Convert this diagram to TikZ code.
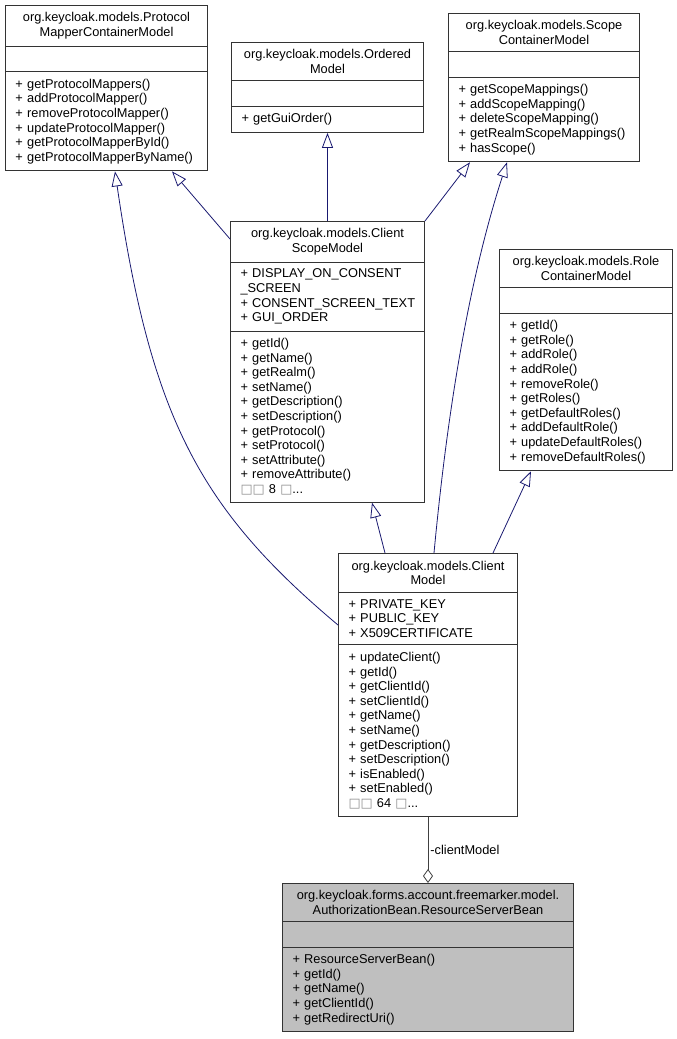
\documentclass[tikz,border=0pt]{standalone}
\usepackage{fontspec}
\setmainfont{Liberation Sans}
\newfontfamily\tofufont{DejaVu Sans}
\usepackage{tikz}
\usetikzlibrary{positioning,calc,shapes.multipart,arrows.meta}
\definecolor{edgeblue}{RGB}{25,25,112}
\definecolor{beangray}{RGB}{191,191,191}
\hyphenpenalty=10000
\exhyphenpenalty=10000
\newcommand{\tofu}{{\tofufont\color{black!45}□}}
\newcommand{\pub}{+~}
\newcommand{\nix}{\vphantom{()}}
\newcommand{\ctr}[1]{\makebox[\hsize]{#1}}

\begin{document}
\begin{tikzpicture}
                [x=1pt, y=-1pt,
                 cls/.style = {rectangle split, rectangle split parts=3, draw=black!80, line width=1pt, fill=white,
                               inner xsep=10pt, inner ysep=6.5pt, align=left, anchor=north west,
                               font=\fontsize{12.8}{14.6}\selectfont},
                 inh/.style = {draw=edgeblue, line width=0.8pt, -{Triangle[open, length=15pt, width=11pt]}},
                 agg/.style = {draw=black!75, line width=0.8pt, {Diamond[open, length=14pt, width=10pt]}-}]
                \useasboundingbox (0,0) rectangle (677,1039);
                % Interfaces on top
                \node[cls, text width=182pt] (pm) at (5,5) {\ctr{org.keycloak.models.Protocol}\\\ctr{MapperContainerModel}
                    \nodepart{two}\nix
                    \nodepart{three}\pub getProtocolMappers()\\\pub addProtocolMapper()\\\pub removeProtocolMapper()\\
                    \pub updateProtocolMapper()\\\pub getProtocolMapperById()\\\pub getProtocolMapperByName()};
                \node[cls, text width=172pt] (ord) at (231,42) {\ctr{org.keycloak.models.Ordered}\\\ctr{Model}
                    \nodepart{two}\nix
                    \nodepart{three}\pub getGuiOrder()};
                \node[cls, text width=171pt] (scope) at (448,13) {\ctr{org.keycloak.models.Scope}\\\ctr{ContainerModel}
                    \nodepart{two}\nix
                    \nodepart{three}\pub getScopeMappings()\\\pub addScopeMapping()\\\pub deleteScopeMapping()\\
                    \pub getRealmScopeMappings()\\\pub hasScope()};
                % Middle row
                \node[cls, text width=174pt] (cscope) at (230,221) {\ctr{org.keycloak.models.Client}\\\ctr{ScopeModel}
                    \nodepart{two}\pub DISPLAY\_ON\_CONSENT\\\_SCREEN\\\pub CONSENT\_SCREEN\_TEXT\\\pub GUI\_ORDER
                    \nodepart{three}\pub getId()\\\pub getName()\\\pub getRealm()\\\pub setName()\\\pub getDescription()\\
                    \pub setDescription()\\\pub getProtocol()\\\pub setProtocol()\\\pub setAttribute()\\
                    \pub removeAttribute()\\\tofu\tofu{} 8 \tofu...};
                \node[cls, text width=153pt] (role) at (499,249) {\ctr{org.keycloak.models.Role}\\\ctr{ContainerModel}
                    \nodepart{two}\nix
                    \nodepart{three}\pub getId()\\\pub getRole()\\\pub addRole()\\\pub addRole()\\\pub removeRole()\\
                    \pub getRoles()\\\pub getDefaultRoles()\\\pub addDefaultRole()\\\pub updateDefaultRoles()\\
                    \pub removeDefaultRoles()};
                % Client model
                \node[cls, text width=159pt, inner ysep=6.8pt] (client) at (338,553) {\ctr{org.keycloak.models.Client}\\\ctr{Model}
                    \nodepart{two}\pub PRIVATE\_KEY\\\pub PUBLIC\_KEY\\\pub X509CERTIFICATE
                    \nodepart{three}\pub updateClient()\\\pub getId()\\\pub getClientId()\\\pub setClientId()\\
                    \pub getName()\\\pub setName()\\\pub getDescription()\\\pub setDescription()\\\pub isEnabled()\\
                    \pub setEnabled()\\\tofu\tofu{} 64 \tofu...};
                % The bean itself
                \node[cls, fill=beangray, text width=271pt] (bean) at (282,883) {\ctr{org.keycloak.forms.account.freemarker.model.}\\\ctr{AuthorizationBean.ResourceServerBean}
                    \nodepart{two}\nix
                    \nodepart{three}\pub ResourceServerBean()\\\pub getId()\\\pub getName()\\\pub getClientId()\\
                    \pub getRedirectUri()};

                % Inheritance
                \path ($(cscope.north west)+(0,18)$) edge[inh] ($(pm.south west)+(167,0)$);
                \path (cscope.north) edge[inh] (ord.south);
                \path (cscope.north east) edge[inh] ($(scope.south west)+(22,0)$);
                \path ($(client.north west)+(47,0)$) edge[inh] ($(cscope.south west)+(142,0)$);
                \path ($(client.north west)+(155,0)$) edge[inh] ($(role.south west)+(32,0)$);
                \draw[inh] ($(client.north west)+(0,72)$) .. controls +(-138,-116) and +(36,247) .. ($(pm.south west)+(110,0)$);
                \draw[inh] ($(client.north west)+(96,0)$) .. controls +(14,-149) and +(-37,114) .. ($(scope.south west)+(59,0)$);
                % Aggregation
                \draw[agg] (bean.north) -- node[right, inner sep=2pt, font=\fontsize{12.8}{14.6}\selectfont] (clientlbl) {-clientModel} (client.south);
            \end{tikzpicture}
\end{document}
